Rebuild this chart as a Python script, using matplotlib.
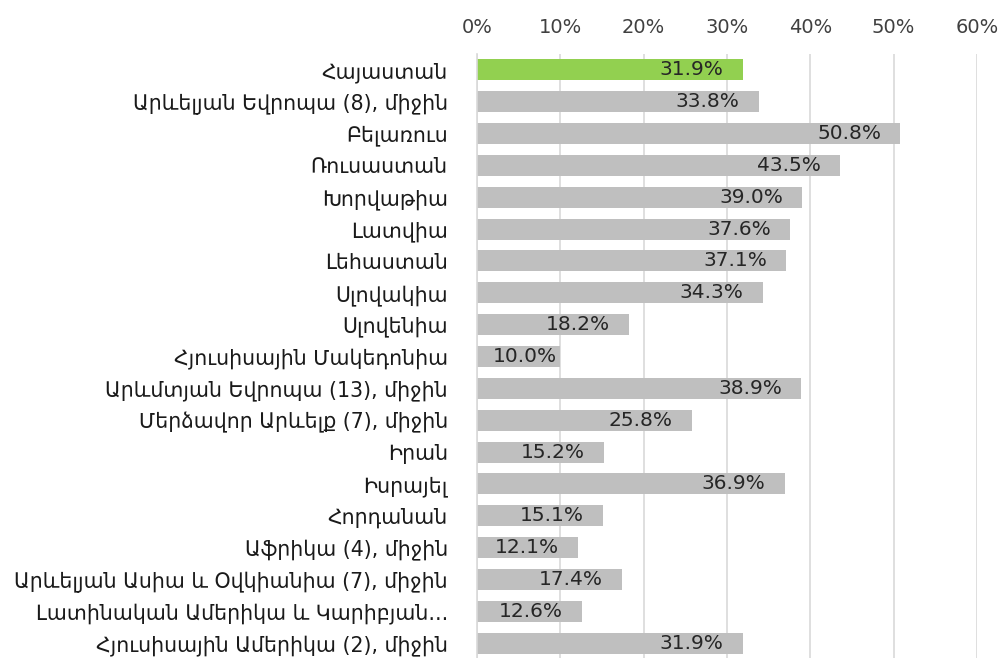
import matplotlib
matplotlib.use("Agg")
import matplotlib.pyplot as plt
from matplotlib.ticker import FuncFormatter, MultipleLocator

categories = [
    "Հայաստան",
    "Արևելյան Եվրոպա (8), միջին",
    "Բելառուս",
    "Ռուսաստան",
    "Խորվաթիա",
    "Լատվիա",
    "Լեհաստան",
    "Սլովակիա",
    "Սլովենիա",
    "Հյուսիսային Մակեդոնիա",
    "Արևմտյան Եվրոպա (13), միջին",
    "Մերձավոր Արևելք (7), միջին",
    "Իրան",
    "Իսրայել",
    "Հորդանան",
    "Աֆրիկա (4), միջին",
    "Արևելյան Ասիա և Օվկիանիա (7), միջին",
    "Լատինական Ամերիկա և Կարիբյան...",
    "Հյուսիսային Ամերիկա (2), միջին",
]
values = [31.9, 33.8, 50.8, 43.5, 39.0, 37.6, 37.1, 34.3, 18.2, 10.0,
          38.9, 25.8, 15.2, 36.9, 15.1, 12.1, 17.4, 12.6, 31.9]
highlight = "Հայաստան"

plt.rcParams['font.family'] = ['DejaVu Sans']

W, H = 1002, 658
fig = plt.figure(figsize=(W / 100, H / 100), dpi=100)
ax = fig.add_axes([477 / W, -1 / H, 500 / W, (H - 54 + 1) / H])

colors = ["#92D050" if c == highlight else "#BFBFBF" for c in categories]
y = list(range(len(categories)))
ax.barh(y, values, height=0.66, color=colors, zorder=2)

ax.set_xlim(0, 60)
ax.set_ylim(len(categories) - 0.5, -0.5)
ax.xaxis.set_major_locator(MultipleLocator(10))
ax.xaxis.set_major_formatter(FuncFormatter(lambda v, p: f"{v:.0f}%"))
ax.xaxis.tick_top()
ax.tick_params(axis='x', length=0, labelsize=14, colors="#404040", pad=12)
ax.tick_params(axis='y', length=0, labelsize=14.8, colors="#1a1a1a", pad=21)
ax.set_yticks(y)
ax.set_yticklabels(categories)
ax.grid(axis='x', color="#D9D9D9", linewidth=1.2, zorder=0)
for s in ["top", "right", "bottom"]:
    ax.spines[s].set_visible(False)
ax.spines["left"].set_color("#D9D9D9")
ax.spines["left"].set_linewidth(1.2)

texts = []
for yi, v in zip(y, values):
    t = ax.annotate(f"{v:.1f}%", xy=(v, yi), xytext=(-13.7, 0), textcoords="offset points",
                    ha="right", va="center", fontsize=14.5, color="#262626", zorder=3)
    texts.append(t)

fig.canvas.draw()
renderer = fig.canvas.get_renderer()
axx0 = ax.transData.transform((0, 0))[0]
for t, yi in zip(texts, y):
    bb = t.get_window_extent(renderer)
    if bb.x0 < axx0 + 16:
        t.xy = (0, yi)
        t.set_position((16 * 72 / 100, 0))
        t.set_ha("left")

fig.savefig("out.png", dpi=100)
